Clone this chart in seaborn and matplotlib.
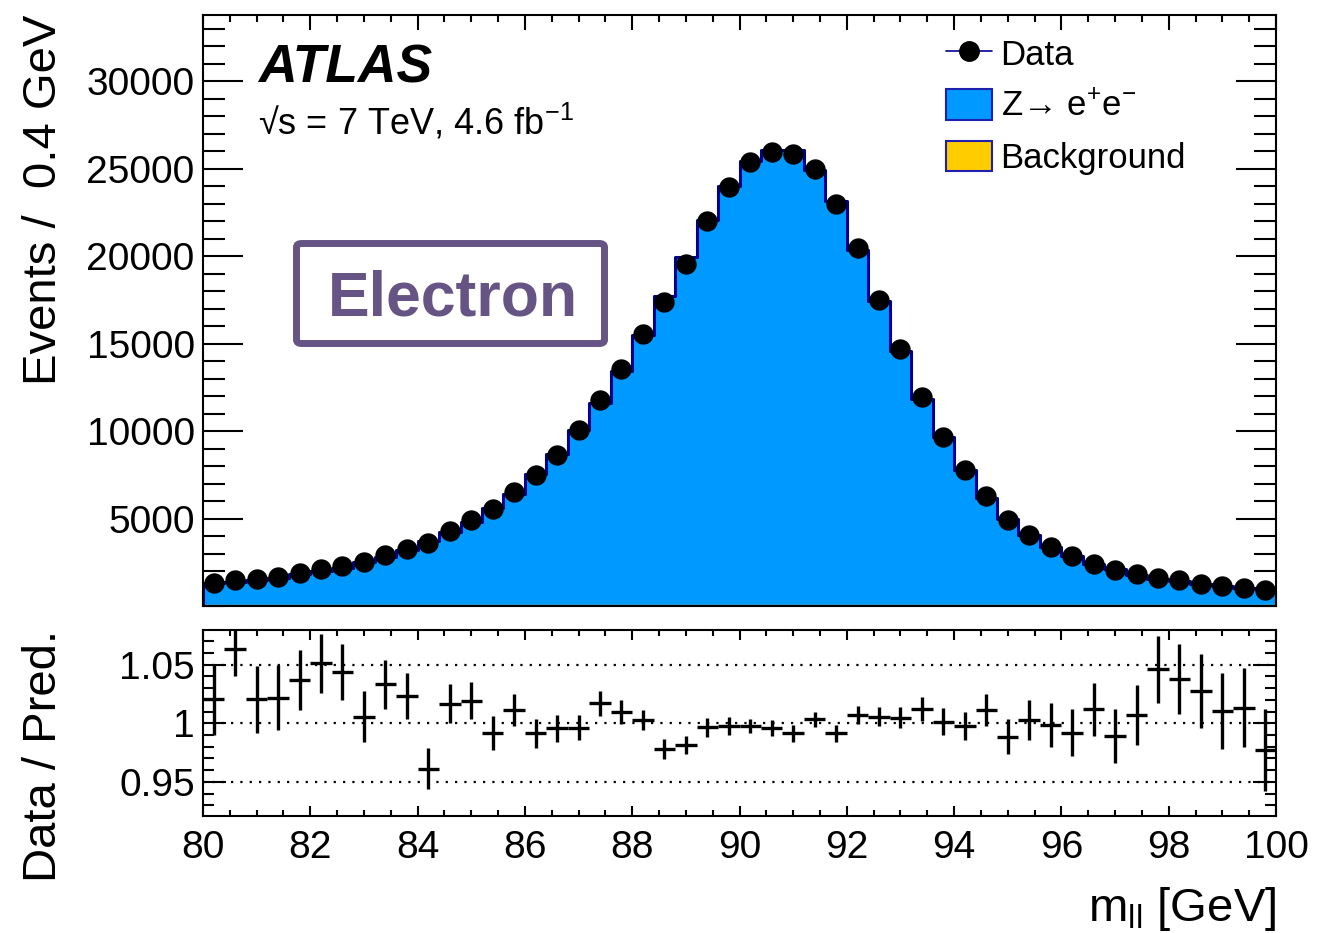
import numpy as np
import pandas as pd
import matplotlib
matplotlib.use("Agg")
import matplotlib.pyplot as plt
import seaborn as sns
from matplotlib.lines import Line2D
from matplotlib.patches import Patch, FancyBboxPatch
from matplotlib.ticker import MultipleLocator

# ---------------- data ----------------
bin_low, bin_high, bin_width = 80.0, 100.0, 0.4
data_counts = [1331, 1464, 1540, 1654, 1901, 2129, 2281, 2509, 2890, 3270,
               3593, 4277, 4924, 5551, 6501, 7490, 8650, 10057, 11787, 13575,
               15569, 17361, 19579, 22008, 23977, 25392, 25965, 25870, 25010, 22965,
               20478, 17516, 14676, 11957, 9676, 7775, 6273, 4943, 4068, 3365,
               2852, 2414, 2072, 1806, 1616, 1464, 1274, 1141, 1027, 932]
zee_counts = [1219, 1293, 1426, 1537, 1752, 1945, 2106, 2417, 2720, 3120,
              3663, 4134, 4757, 5526, 6355, 7482, 8615, 10023, 11519, 13372,
              15456, 17680, 19879, 22014, 23963, 25383, 26009, 26024, 24858, 23095,
              20268, 17351, 14541, 11748, 9598, 7729, 6139, 4937, 3995, 3308,
              2814, 2325, 2035, 1733, 1486, 1352, 1182, 1071, 957, 897]
bkg_counts = [85, 84, 83, 82, 81, 80, 79, 78, 77, 76,
              75, 74, 74, 73, 73, 72, 72, 71, 71, 70,
              70, 70, 69, 69, 69, 68, 68, 68, 67, 67,
              66, 66, 65, 65, 64, 64, 63, 63, 62, 62,
              61, 61, 60, 60, 59, 59, 58, 58, 57, 57]
ratio = [1.0204, 1.0633, 1.0204, 1.0219, 1.0369, 1.0511, 1.0440, 1.0057, 1.0332, 1.0233,
         0.9611, 1.0165, 1.0193, 0.9915, 1.0114, 0.9915, 0.9957, 0.9963, 1.0170, 1.0099,
         1.0028, 0.9781, 0.9815, 0.9966, 0.9977, 0.9977, 0.9957, 0.9915, 1.0034, 0.9915,
         1.0071, 1.0057, 1.0048, 1.0122, 1.0014, 0.9977, 1.0114, 0.9886, 1.0028, 0.9986,
         0.9920, 1.0119, 0.9892, 1.0071, 1.0460, 1.0375, 1.0275, 1.0105, 1.0133, 0.9773]
ratio_err = [0.0300, 0.0227, 0.0285, 0.0277, 0.0258, 0.0249, 0.0239, 0.0220, 0.0207, 0.0193,
             0.0175, 0.0166, 0.0156, 0.0145, 0.0138, 0.0125, 0.0114, 0.0107, 0.0104, 0.0102,
             0.0088, 0.0085, 0.0078, 0.0081, 0.0078, 0.0060, 0.0068, 0.0071, 0.0064, 0.0071,
             0.0075, 0.0082, 0.0091, 0.0100, 0.0114, 0.0119, 0.0136, 0.0149, 0.0173, 0.0185,
             0.0202, 0.0227, 0.0234, 0.0258, 0.0284, 0.0298, 0.0318, 0.0324, 0.0338, 0.0348]
y_ticks_top = [5000, 10000, 15000, 20000, 25000, 30000]
y_ticks_ratio = [0.95, 1.0, 1.05]
y_ticklabels_ratio = ["0.95", "1", "1.05"]
x_ticks = [80, 82, 84, 86, 88, 90, 92, 94, 96, 98, 100]

edges = np.linspace(bin_low, bin_high, len(data_counts) + 1)
centers = 0.5 * (edges[:-1] + edges[1:])
edge_list = [float(e) for e in edges]

df = pd.DataFrame({
    "m": centers,
    "data": data_counts,
    "zee": zee_counts,
    "bkg": bkg_counts,
    "ratio": ratio,
    "err": ratio_err,
})
df["stack_total"] = df["zee"] + df["bkg"]

# ---------------- style ----------------
sns.set_theme(style="ticks")
plt.rcParams["font.family"] = ["Liberation Sans", "DejaVu Sans"]
plt.rcParams["mathtext.fontset"] = "custom"
plt.rcParams["mathtext.rm"] = "Liberation Sans"
plt.rcParams["mathtext.it"] = "Liberation Sans:italic"
plt.rcParams["mathtext.bf"] = "Liberation Sans:bold"
plt.rcParams["axes.linewidth"] = 1.5
for key in ["text.color", "axes.labelcolor", "xtick.color", "ytick.color", "axes.edgecolor"]:
    plt.rcParams[key] = "black"

BLUE = "#0099ff"
NAVY = "#000090"
YELLOW = "#ffcc00"
PURPLE = "#665485"

W, H = 1334, 933
fig = plt.figure(figsize=(W / 100, H / 100), dpi=100)
ax1 = fig.add_axes([203 / W, 1 - 606 / H, (1276 - 203) / W, (606 - 15) / H])
ax2 = fig.add_axes([203 / W, 1 - 816 / H, (1276 - 203) / W, (816 - 630) / H])

# ---------------- top panel ----------------
sns.histplot(data=df, x="m", weights="stack_total", bins=edge_list, element="step",
             fill=True, facecolor=BLUE, edgecolor=NAVY, linewidth=2.2, ax=ax1, zorder=2)
sns.histplot(data=df, x="m", weights="bkg", bins=edge_list, element="step",
             fill=True, facecolor=YELLOW, edgecolor="#e0b000", linewidth=1.0, ax=ax1, zorder=3)
sns.scatterplot(data=df, x="m", y="data", color="black", s=215, edgecolor="black",
                linewidth=0, zorder=5, ax=ax1, legend=False)

ax1.set_xlim(bin_low, bin_high)
ax1.set_ylim(0, 33800)
ax1.set_yticks(y_ticks_top)
ax1.set_yticklabels([str(v) for v in y_ticks_top])
ax1.yaxis.set_minor_locator(MultipleLocator(1000))
ax1.set_xticks(x_ticks)
ax1.xaxis.set_minor_locator(MultipleLocator(0.5))
ax1.tick_params(axis="x", which="major", direction="in", length=11, width=1.5,
                top=True, bottom=True, labelbottom=False)
ax1.tick_params(axis="x", which="minor", direction="in", length=5, width=1.5,
                top=True, bottom=True)
ax1.tick_params(axis="y", which="major", direction="in", length=29, width=1.5,
                left=True, right=True, labelsize=28, pad=6)
ax1.tick_params(axis="y", which="minor", direction="in", length=16, width=1.5,
                left=True, right=True)
ax1.set_xlabel("")
ax1.set_ylabel("Events /  0.4 GeV", fontsize=34, loc="top")
ax1.yaxis.set_label_coords(-0.128, 1.0)
for sp in ax1.spines.values():
    sp.set_linewidth(1.5)
    sp.set_color("black")
    sp.set_zorder(10)

ax1.text(0.0513, 0.8866, "ATLAS", transform=ax1.transAxes, fontsize=38.5,
         fontweight="bold", fontstyle="italic", va="baseline", color="black")
ax1.text(0.0513, 0.797, "√s = 7 TeV, 4.6 fb$^{\\mathregular{-1}}$", transform=ax1.transAxes,
         fontsize=26, va="baseline", color="black")

handles = [
    Line2D([], [], color=NAVY, lw=1.2, marker="o", markersize=14,
           markerfacecolor="black", markeredgecolor="black"),
    Patch(facecolor=BLUE, edgecolor="#2020b0", linewidth=1.5),
    Patch(facecolor=YELLOW, edgecolor="#2020b0", linewidth=1.5),
]
labels = ["Data", "Z→ e$^{\\mathregular{+}}$e$^{\\mathregular{-}}$", "Background"]
leg = ax1.legend(handles, labels, loc="upper left", bbox_to_anchor=(0.6925, 0.962),
                 frameon=False, fontsize=25, handlelength=1.32, handleheight=0.98,
                 handletextpad=0.25, labelspacing=0.5, borderpad=0, borderaxespad=0)
for t in leg.get_texts():
    t.set_color("black")

# Electron box
box = FancyBboxPatch((296.5 / W, 1 - 343.5 / H), (604.5 - 296.5) / W, (343.5 - 243.5) / H,
                     boxstyle="round,pad=0,rounding_size=0.004", transform=fig.transFigure,
                     fill=False, edgecolor=PURPLE, linewidth=5)
fig.add_artist(box)
fig.text(453 / W, 1 - 316 / H, "Electron", fontsize=45, fontweight="bold",
         color=PURPLE, ha="center", va="baseline")

# ---------------- ratio panel ----------------
for v in y_ticks_ratio:
    ax2.axhline(v, color="black", lw=1.6, ls=(0, (1, 3.2)), zorder=1)
ax2.errorbar(df["m"], df["ratio"], xerr=bin_width / 2, yerr=df["err"], fmt="none",
             ecolor="black", elinewidth=2.4, capsize=0, zorder=3)
ax2.set_xlim(bin_low, bin_high)
ax2.set_ylim(0.921, 1.0795)
ax2.set_yticks(y_ticks_ratio)
ax2.set_yticklabels(y_ticklabels_ratio)
ax2.yaxis.set_minor_locator(MultipleLocator(0.01))
ax2.set_xticks(x_ticks)
ax2.set_xticklabels([str(v) for v in x_ticks])
ax2.xaxis.set_minor_locator(MultipleLocator(0.5))
ax2.tick_params(axis="x", which="major", direction="in", length=7, width=1.5,
                top=True, bottom=True, labelsize=28, pad=10)
ax2.tick_params(axis="x", which="minor", direction="in", length=4, width=1.5,
                top=True, bottom=True)
ax2.tick_params(axis="y", which="major", direction="in", length=16.5, width=1.5,
                left=True, right=True, labelsize=28, pad=6)
ax2.tick_params(axis="y", which="minor", direction="in", length=8, width=1.5,
                left=True, right=True)
ax2.set_ylabel("Data / Pred.", fontsize=34, loc="top")
ax2.yaxis.set_label_coords(-0.128, 1.0)
ax2.set_xlabel("m$_{\\mathregular{ll}}$ [GeV]", fontsize=34, loc="right")
ax2.xaxis.set_label_coords(1.0, -0.37)
for sp in ax2.spines.values():
    sp.set_linewidth(1.5)
    sp.set_color("black")
    sp.set_zorder(10)

fig.savefig("out.png", dpi=100, facecolor="white")
